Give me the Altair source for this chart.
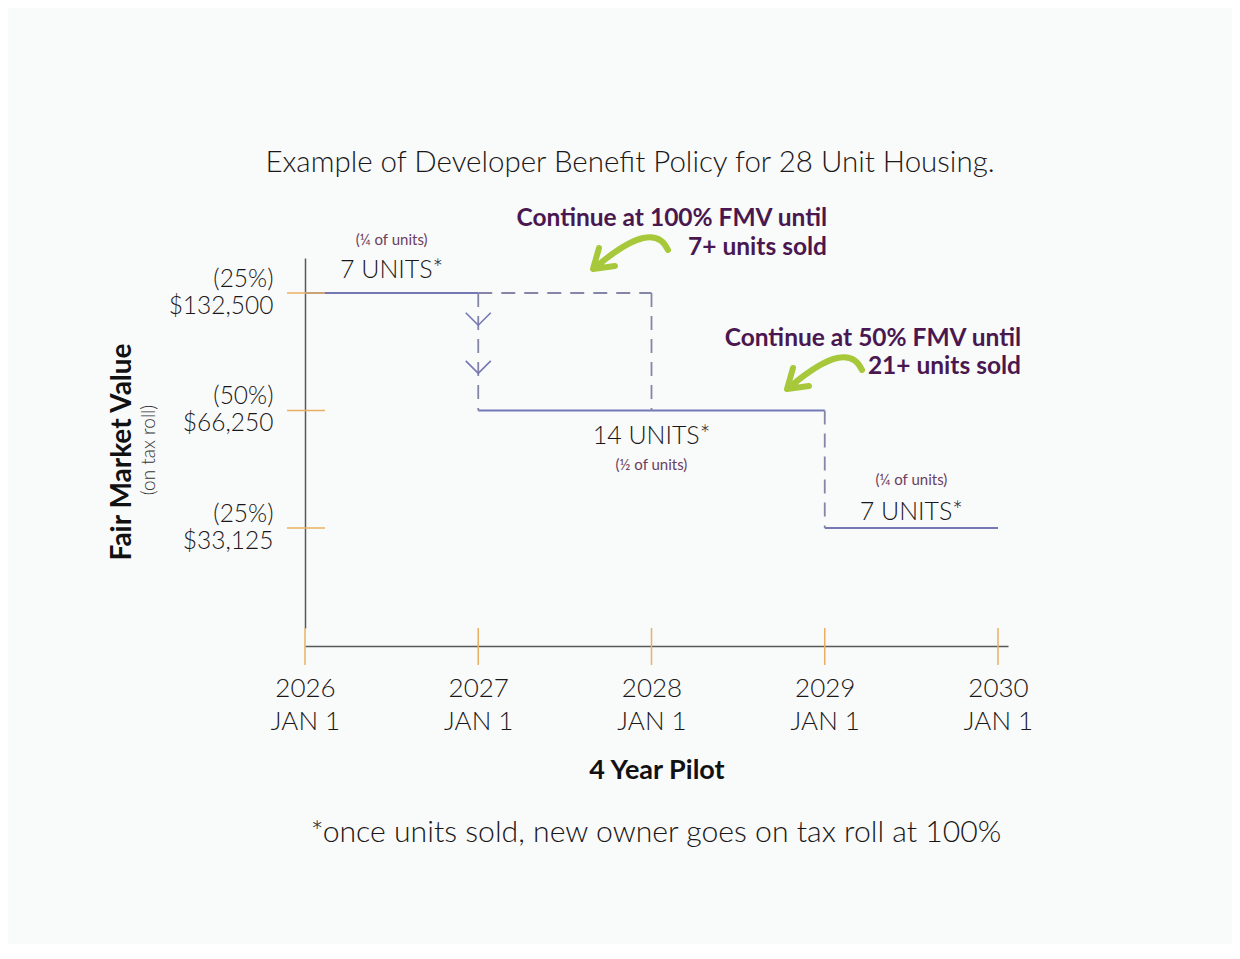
import altair as alt
import pandas as pd

# ---------------- data ----------------
years = [2026, 2027, 2028, 2029, 2030]
date_labels = ["JAN 1", "JAN 1", "JAN 1", "JAN 1", "JAN 1"]
fmv_values = [132500, 66250, 33125]
fmv_pct = ["(25%)", "(50%)", "(25%)"]
fmv_money = ["$132,500", "$66,250", "$33,125"]

# step segments (year start/end, value start/end, style)
seg_x0 = [2026, 2027, 2029, 2027, 2027, 2028, 2029]
seg_x1 = [2027, 2029, 2030, 2027, 2028, 2028, 2029]
seg_y0 = [132500, 66250, 33125, 132500, 132500, 132500, 66250]
seg_y1 = [132500, 66250, 33125, 66250, 132500, 66250, 33125]
seg_style = ["solid", "solid", "solid", "dashed", "dashed", "dashed", "dashed"]

chevron_year = [2027, 2027]
chevron_fmv = [113700, 85600]

unit_labels = ["7 UNITS*", "14 UNITS*", "7 UNITS*"]
share_labels = ["(\u00bc of units)", "(\u00bd of units)", "(\u00bc of units)"]
unit_label_year = [2026.5, 2028, 2029.5]
unit_label_fmv = [132500, 66250, 33125]

note1 = ["Continue at 100% FMV until", "7+ units sold"]
note2 = ["Continue at 50% FMV until", "21+ units sold"]
title_text = "Example of Developer Benefit Policy for 28 Unit Housing."
x_title = "4 Year Pilot"
y_title = "Fair Market Value"
y_subtitle = "(on tax roll)"
footnote = "*once units sold, new owner goes on tax roll at 100%"

# ---------------- styles ----------------
FONT = "Lato"
DARK = "#1a1718"
PURPLE = "#4a1850"
SMALLPURPLE = "#6a3f60"
GREEN = "#a6c83a"
ORANGE = "#e8b062"
AXIS = "#58585a"
SOLID = "#7478b4"
DASHED = "#8486a8"
OX, OY = 305, 258  # plot origin on the page

segs = pd.DataFrame({"x0": seg_x0, "x1": seg_x1, "y0": seg_y0, "y1": seg_y1, "style": seg_style})

xscale = alt.Scale(domain=[2026, 2030.0577], nice=False, zero=False)
yscale = alt.Scale(type="log", base=2, domain=[18360, 162900], nice=False)


def x_label_expr():
    parts = []
    for yv, dl in zip(years, date_labels):
        parts.append(f"datum.value == {yv} ? ['{yv}', '{dl}']")
    return " : ".join(parts) + " : ''"


def y_label_expr():
    parts = []
    for v, p, m in zip(fmv_values, fmv_pct, fmv_money):
        parts.append(f"datum.value == {v} ? ['{p}', '{m}']")
    return " : ".join(parts) + " : ''"


xaxis = alt.Axis(values=years, labelExpr=x_label_expr(), title=None, grid=False, ticks=False,
                 domain=True, domainColor=AXIS, domainWidth=1.5, offset=18,
                 labelFont=FONT, labelFontSize=26, labelFontWeight=300, labelColor=DARK,
                 labelLineHeight=33, labelPadding=29, labelAlign="center", labelBaseline="top",
                 labelFlush=False, labelOverlap=False, labelBound=False)
yaxis = alt.Axis(values=fmv_values, labelExpr=y_label_expr(), title=None, grid=False, ticks=False,
                 domain=True, domainColor=AXIS, domainWidth=1.5,
                 labelFont=FONT, labelFontSize=24.5, labelFontWeight=300, labelColor=DARK,
                 labelLineHeight=27, labelPadding=32, labelAlign="right", labelBaseline="middle",
                 labelOffset=-13.5,
                 labelFlush=False, labelOverlap=False, labelBound=False)


def X(f):
    return alt.X(f, type="quantitative", scale=xscale, axis=xaxis)


def Y(f):
    return alt.Y(f, type="quantitative", scale=yscale, axis=yaxis)


one = pd.DataFrame({"k": [0]})


def px_text(text, px, py, **kw):
    return alt.Chart(one).mark_text(text=text, font=FONT, **kw).encode(
        x=alt.value(px - OX), y=alt.value(py - OY))


layers = []

# step lines
layers.append(alt.Chart(segs).transform_filter("datum.style == 'solid'").mark_rule(
    color=SOLID, strokeWidth=2).encode(x=X("x0"), x2="x1", y=Y("y0"), y2="y1"))
layers.append(alt.Chart(segs).transform_filter("datum.style == 'dashed'").mark_rule(
    color=DASHED, strokeWidth=1.8, strokeDash=[14, 9]).encode(x=X("x0"), x2="x1", y=Y("y0"), y2="y1"))

# chevrons on the drop
chev = pd.DataFrame({"year": chevron_year, "fmv": chevron_fmv})
layers.append(alt.Chart(chev).mark_point(shape="M-1,-0.5L0,0.5L1,-0.5", size=625, filled=False,
                                         stroke=SOLID, strokeWidth=1.6, opacity=1).encode(
    x=X("year"), y=Y("fmv")))

# orange crossing ticks
tick_y = pd.DataFrame({"fmv": fmv_values})
layers.append(alt.Chart(tick_y).mark_rule(color=ORANGE, strokeWidth=1.5).encode(
    y=Y("fmv"), x=alt.value(-18), x2=alt.value(20)))
tick_x = pd.DataFrame({"year": years})
layers.append(alt.Chart(tick_x).mark_rule(color=ORANGE, strokeWidth=1.5).encode(
    x=X("year"), y=alt.value(370), y2=alt.value(407)))

# unit labels
unit_dy = [-23, 26, -16]
share_dy = [-53, 55, -48]
for i in range(3):
    d = pd.DataFrame({"year": [unit_label_year[i]], "fmv": [unit_label_fmv[i]],
                      "u": [unit_labels[i]], "s": [share_labels[i]]})
    layers.append(alt.Chart(d).mark_text(font=FONT, fontSize=25, fontWeight=300, color=DARK,
                                         baseline="middle", align="center", dy=unit_dy[i]).encode(
        x=X("year"), y=Y("fmv"), text="u:N"))
    layers.append(alt.Chart(d).mark_text(font=FONT, fontSize=15, fontWeight=400, color=SMALLPURPLE,
                                         baseline="middle", align="center", dy=share_dy[i]).encode(
        x=X("year"), y=Y("fmv"), text="s:N"))

# purple notes (one line per text)
for line, py in zip(note1, [219, 248]):
    layers.append(px_text(line, 827, py, fontSize=24.5, fontWeight="bold", color=PURPLE,
                          align="right", baseline="middle"))
for line, py in zip(note2, [339, 367]):
    layers.append(px_text(line, 1021, py, fontSize=24.5, fontWeight="bold", color=PURPLE,
                          align="right", baseline="middle"))

# green curved arrows
arrow_path = "M0.95,-0.1 Q0.6,-0.9 -0.825,0.3 M-0.775,-0.15 L-0.925,0.375 L-0.375,0.3"
for cx, cy in [(630, 254), (824, 374)]:
    layers.append(alt.Chart(one).mark_point(shape=arrow_path, size=6400, filled=False, stroke=GREEN,
                                            strokeWidth=6, strokeCap="round", strokeJoin="round",
                                            opacity=1).encode(
        x=alt.value(cx - OX), y=alt.value(cy - OY)))

# titles
layers.append(px_text(title_text, 630, 163, fontSize=29.5, fontWeight=300, color=DARK,
                      align="center", baseline="middle"))
layers.append(px_text(x_title, 657, 771, fontSize=27, fontWeight="bold", color="#111111",
                      align="center", baseline="middle"))
layers.append(px_text(footnote, 656, 833, fontSize=30.2, fontWeight=300, color=DARK,
                      align="center", baseline="middle"))
layers.append(px_text(y_title, 123, 452, fontSize=28, fontWeight="bold", color="#111111",
                      align="center", baseline="middle", angle=270))
layers.append(px_text(y_subtitle, 149, 450, fontSize=19, fontWeight=300, color="#333333",
                      align="center", baseline="middle", angle=270))

chart = alt.layer(*layers).properties(
    width=703, height=370,
    autosize=alt.AutoSizeParams(type="none"),
    padding={"left": 297, "top": 250, "right": 224, "bottom": 316},
    background="#f9fafa",
).configure_view(strokeWidth=0)

chart.save("out.html", embed_options={"renderer": "svg", "actions": False})
